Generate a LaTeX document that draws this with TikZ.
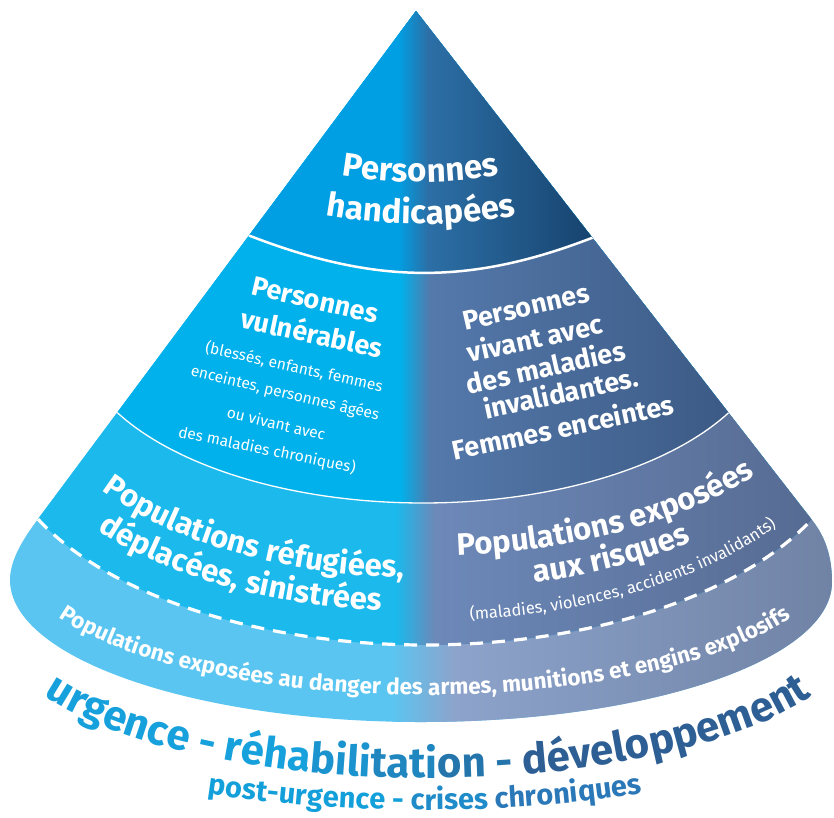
\documentclass[tikz,border=0pt]{standalone}
\usepackage{fontspec}
\setmainfont{Fira Sans}
\usetikzlibrary{decorations.text}
\definecolor{bA}{HTML}{009FE3}
\definecolor{bAm}{HTML}{2C6FA6}
\definecolor{bAr}{HTML}{17436E}
\definecolor{bB}{HTML}{00B1EB}
\definecolor{bBm}{HTML}{5479AB}
\definecolor{bBr}{HTML}{3C5A85}
\definecolor{bC}{HTML}{1BB9EC}
\definecolor{bCm}{HTML}{6D89B9}
\definecolor{bCr}{HTML}{566B92}
\definecolor{bD}{HTML}{5BC5F1}
\definecolor{bDm}{HTML}{8DA3CB}
\definecolor{bDr}{HTML}{7083A5}
\definecolor{ucyan}{HTML}{16A0DC}
\definecolor{udark}{HTML}{2D5E94}
\definecolor{scyan}{HTML}{139FDA}
\definecolor{sblue}{HTML}{2B78B8}
\newcommand\pyTop{\fontsize{33}{38}\selectfont\bfseries}
\newcommand\pyMid{\fontsize{27}{31}\selectfont\bfseries}
\newcommand\pySmall{\fontsize{15.5}{18}\selectfont}
\newcommand\pySmallB{\fontsize{16.5}{19}\selectfont}
\newcommand\pyBand{\fontsize{31}{36}\selectfont\bfseries}
\newcommand\pyLow{\fontsize{22.5}{26}\selectfont\bfseries}
\newcommand\pyBig{\fontsize{42}{47}\selectfont\bfseries}
\newcommand\pySub{\fontsize{29}{33}\selectfont\bfseries}
\tikzset{
  midtxt/.style={font=\pyMid, text=white, anchor=base, inner sep=0pt},
  smalltxt/.style={font=\pySmall, text=white, anchor=base, inner sep=0pt},
  sep/.style={white, line width=#1},
}
\begin{document}
\begin{tikzpicture}[x=1pt,y=-1pt]
\useasboundingbox (0,0) rectangle (834,817);
\begin{scope}
\clip (416,11) -- (38,519) .. controls (23,539) and (10,560) .. (10,580)
  .. controls (10,658) and (194,722) .. (421,722)
  .. controls (648,722) and (832,660) .. (832,582)
  .. controls (832,562) and (828,540) .. (812,520) -- cycle;
% band 4
\fill[bD] (0,0) rectangle (834,817);
\shade[left color=bD, right color=bDm] (392,0) rectangle (455,817);
\shade[left color=bDm, right color=bDr] (455,0) rectangle (832,817);
% band 3
\begin{scope}
\clip (0,519) -- plot[domain=154.16:25.84, samples=80] ({425+430*cos(\x)},{422+223*sin(\x)}) -- (834,519) -- (834,0) -- (0,0) -- cycle;
\fill[bC] (0,0) rectangle (834,817);
\shade[left color=bC, right color=bCm] (396,0) rectangle (435,817);
\shade[left color=bCm, right color=bCr] (435,0) rectangle (812,817);
\fill[bCr] (812,0) rectangle (834,817);
\end{scope}
% band 2
\begin{scope}
\clip (0,412) -- plot[domain=151.56:28.44, samples=80] ({423+348*cos(\x)},{330+173*sin(\x)}) -- (834,412) -- (834,0) -- (0,0) -- cycle;
\fill[bB] (0,0) rectangle (834,817);
\shade[left color=bB, right color=bBm] (400,0) rectangle (430,817);
\shade[left color=bBm, right color=bBr] (430,0) rectangle (729,817);
\fill[bBr] (729,0) rectangle (834,817);
\end{scope}
% band 1
\begin{scope}
\clip (0,236) -- (249,235.5) .. controls (374,284) and (468,286) .. (593,237.5) -- (834,237) -- (834,0) -- (0,0) -- cycle;
\fill[bA] (0,0) rectangle (834,817);
\shade[left color=bA, right color=bAm] (398,0) rectangle (428,817);
\shade[left color=bAm, right color=bAr] (428,0) rectangle (593,817);
\fill[bAr] (593,0) rectangle (834,817);
\end{scope}
% separators
\draw[sep=2.5] (249,235.5) .. controls (374,284) and (468,286) .. (593,237.5);
\draw[sep=1.3] plot[domain=151.56:28.44, samples=80] ({423+348*cos(\x)},{330+173*sin(\x)});
\draw[sep=3.2, dash pattern=on 13pt off 9pt] plot[domain=154.16:25.84, samples=100] ({425+430*cos(\x)},{422+223*sin(\x)});
\end{scope}

% top band
\path[decorate, decoration={text along path, text align=center,
  text={|\pyTop\color{white}|Personnes}}]
  (300,167) .. controls (380,187) and (460,187) .. (540,167);
\path[decorate, decoration={text along path, text align=center,
  text={|\pyTop\color{white}|handicapées}}]
  (301,210.7) .. controls (381,228.4) and (461,228.4) .. (541,210.7);

% band 2 left
\node[midtxt, rotate=-13] (vp) at (313,309) {Personnes};
\node[midtxt, rotate=-12] (vv) at (310,343) {vulnérables};
\node[smalltxt, rotate=-12.5] (s1) at (293,372) {(blessés, enfants, femmes};
\node[smalltxt, rotate=-13.5] (s2) at (284,398) {enceintes, personnes âgées};
\node[smalltxt, rotate=-13] (s3) at (275,429) {ou vivant avec};
\node[smalltxt, rotate=-11.5] (s4) at (266,455) {des maladies chroniques)};

% band 2 right
\node[midtxt, rotate=13] (r1) at (528,316) {Personnes};
\node[midtxt, rotate=12.5] (r2) at (537,348) {vivant avec};
\node[midtxt, rotate=12.5] (r3) at (548,377) {des maladies};
\node[midtxt, rotate=12] (r4) at (563,403) {invalidantes.};
\node[midtxt, rotate=12] (r5) at (565,437) {Femmes enceintes};

% band 3 left
\path[decorate, decoration={text along path,
  text={|\pyBand\color{white}|Populations réfugiées,}}]
  plot[domain=145.9:70, samples=90] ({425+390*cos(\x)},{378+200*sin(\x)});
\path[decorate, decoration={text along path,
  text={|\pyBand\color{white}|déplacées, sinistrées}}]
  plot[domain=143.84:70, samples=90] ({425+405*cos(\x)},{412+200*sin(\x)});

% band 3 right
\path[decorate, decoration={text along path,
  text={|\pyBand\color{white}|Populations exposées}}]
  plot[domain=85.73:10, samples=90] ({425+430*cos(\x)},{333+223*sin(\x)});
\path[decorate, decoration={text along path,
  text={|\pyBand\color{white}|aux risques}}]
  plot[domain=75.18:10, samples=90] ({425+430*cos(\x)},{367+223*sin(\x)});
\path[decorate, decoration={text along path,
  text={|\pySmallB\color{white}|(maladies, violences, accidents invalidants)}}]
  plot[domain=83.99:5, samples=100] ({425+430*cos(\x)},{398+223*sin(\x)});

% band 4
\path[decorate, decoration={text along path, text align=center,
  text={|\pyLow\color{white}|Populations exposées au danger des armes, munitions et engins explosifs}}]
  plot[domain=168:12, samples=140] ({425+411*cos(\x)},{553+142*sin(\x)});

% bottom captions
\path[decorate, decoration={text along path, text align=center,
  text={|\pyBig\color{ucyan}|urgence - réha|\pyBig\color{ucyan!80!udark}|bili|\pyBig\color{ucyan!60!udark}|tati|\pyBig\color{ucyan!35!udark}|on - |\pyBig\color{udark}|développement}}]
  plot[domain=172:8, samples=140] ({428+430*cos(\x)},{628+150*sin(\x)});
\path[decorate, decoration={text along path, text align=center,
  text={|\pySub\color{scyan}|post-urgence - |\pySub\color{scyan!50!sblue}|crises |\pySub\color{sblue}|chroniques}}]
  (150,783.8) .. controls (333.3,818.7) and (516.7,818.7) .. (700,783.8);
\end{tikzpicture}
\end{document}
